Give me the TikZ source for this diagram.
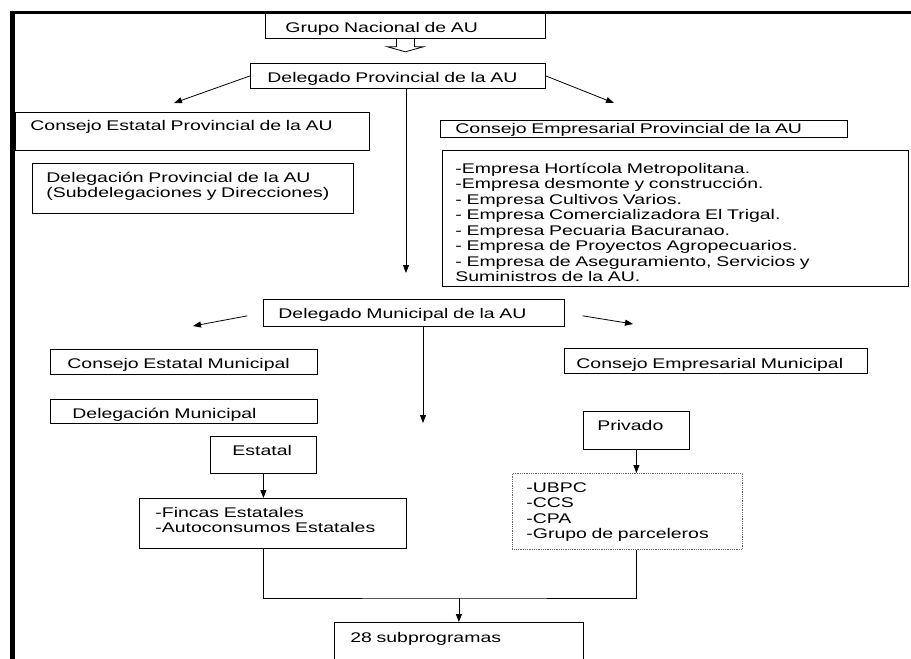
\documentclass[tikz,border=0pt]{standalone}
\usepackage{fontspec}
\setmainfont[FakeStretch=1.39]{Liberation Sans}
\usetikzlibrary{arrows.meta}

\begin{document}
\begin{tikzpicture}[x=1pt, y=-1pt, line width=.8pt, >={Triangle[length=8pt, width=6pt]},
  caja/.style={draw, anchor=north west, align=left, inner ysep=0pt, font=\fontsize{14}{15.5}\selectfont}]
  \useasboundingbox (0, 0) rectangle (911, 659);
  % marco
  \draw [line width=5pt] (12, 659) -- (12, 11);
  \draw [line width=3.5pt] (10, 12.5) -- (911, 12.5);
  % nivel provincial
  \node [caja, inner xsep=20pt, text width=240pt, text height=19pt, text depth=6pt] (grupo) at (265, 13) {Grupo Nacional de AU};
  \node [caja, inner xsep=17pt, text width=261pt, text height=19pt, text depth=6pt] (delprov) at (250, 63) {Delegado Provincial de la AU};
  \node [caja, inner xsep=15pt, text width=324pt, text height=18pt, text depth=20pt] (cep) at (15, 112) {Consejo Estatal Provincial de la AU};
  \node [caja, inner xsep=14pt, text width=293pt, text height=19pt, text depth=31pt] (dprov) at (32, 163) {Delegación Provincial de la AU\\(Subdelegaciones y Direcciones)};
  \node [caja, inner xsep=15pt, text width=377pt, text height=13pt, text depth=4pt] (cemp) at (440, 120) {Consejo Empresarial Provincial de la AU};
  \node [caja, inner xsep=13pt, text width=440pt, text height=23pt, text depth=113pt] (empresas) at (442, 150) {-Empresa Hortícola Metropolitana.\\-Empresa desmonte y construcción.\\- Empresa Cultivos Varios.\\- Empresa Comercializadora El Trigal.\\- Empresa Pecuaria Bacuranao.\\- Empresa de Proyectos Agropecuarios.\\- Empresa de Aseguramiento, Servicios y\\Suministros de la AU.};
  % nivel municipal
  \node [caja, inner xsep=15pt, text width=271pt, text height=19pt, text depth=8pt] (delmun) at (263, 299) {Delegado Municipal de la AU};
  \node [caja, inner xsep=17pt, text width=233pt, text height=19pt, text depth=6pt] (cem) at (50, 349) {Consejo Estatal Municipal};
  \node [caja, inner xsep=12pt, text width=279pt, text height=20pt, text depth=5pt] (cemm) at (564, 348) {Consejo Empresarial Municipal};
  \node [caja, inner xsep=22pt, text width=223pt, text height=19pt, text depth=5pt] (dmun) at (50, 399) {Delegación Municipal};
  \node [caja, inner xsep=14pt, text width=78pt, text height=19pt, text depth=19pt] (privado) at (583, 411) {Privado};
  \node [caja, inner xsep=22pt, text width=62pt, text height=19pt, text depth=18pt] (estatal) at (210, 436) {Estatal};
  \node [caja, inner xsep=16pt, text width=235pt, text height=19pt, text depth=31pt] (fincas) at (139, 498) {-Fincas Estatales\\-Autoconsumos Estatales};
  \node [caja, draw=black!60, densely dotted, inner xsep=14pt, text width=202pt, text height=19pt, text depth=57pt] (ubpc) at (512, 473) {-UBPC\\-CCS\\-CPA\\-Grupo de parceleros};
  \node [caja, inner xsep=16pt, text width=217pt, text height=20pt, text depth=40pt] (sub) at (334, 622) {28 subprogramas};
  % flechas
  \draw [shift={(grupo.south)}] (-9, 0) -- (-9, 8) -- (-18, 8) -- (0, 13) -- (18, 8) -- (9, 8) -- (9, 0);
  \coordinate (pl) at (174, 103);
  \coordinate (pr) at (614, 103);
  \coordinate (pm) at (406, 273);
  \draw [->] (delprov.west) -- (pl);
  \draw [->] (delprov.east) -- (pr);
  \draw [->] (delprov.south -| pm) -- (pm);
  \coordinate (ml) at (193, 326);
  \coordinate (mr) at (633, 324);
  \coordinate (mm) at (423, 423);
  \draw [->, shorten <=16pt] (delmun.west) -- (ml);
  \draw [->, shorten <=18pt] (delmun.east) -- (mr);
  \draw [->] (delmun.south -| mm) -- (mm);
  \draw [->] (estatal) -- (estatal |- fincas.north);
  \draw [->] (privado) -- (privado |- ubpc.north);
  \path (sub.north) ++(0, -24) coordinate (j);
  \draw (fincas.south -| estatal) |- (j) -| (ubpc.south -| privado);
  \draw [->] (j) -- (sub);
\end{tikzpicture}
\end{document}
